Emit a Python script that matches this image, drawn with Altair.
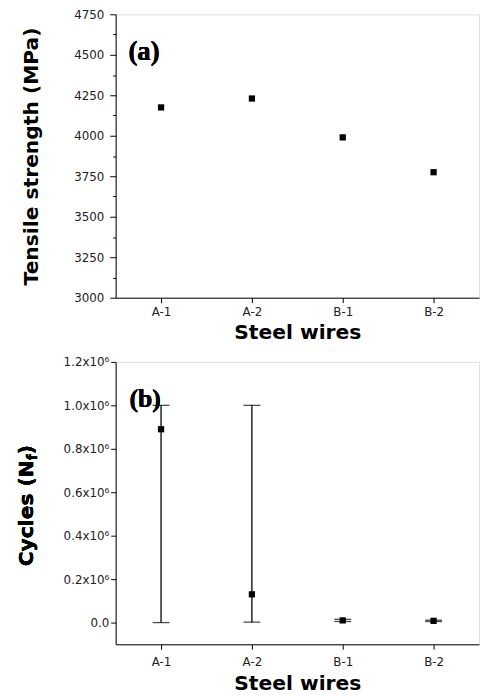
import altair as alt
import pandas as pd

wires = ["A-1", "A-2", "B-1", "B-2"]
tensile = [4175, 4230, 3990, 3775]
cycles_mean = [890000, 130000, 10000, 8000]
cycles_low = [0, 2000, 5000, 5000]
cycles_high = [1000000, 1000000, 15000, 11000]

ts_ticks = list(range(3000, 4751, 125))
cy_ticks = [i * 100000 for i in range(0, 13)]

df_a = pd.DataFrame({"wire": wires, "ts": tensile})
df_b = pd.DataFrame({"wire": wires, "mean": cycles_mean, "low": cycles_low, "high": cycles_high})

LF = "DejaVu Sans"
TF = "DejaVu Sans"
TS = 20.5
LS = 12
W = 368
H_TOP = 287
H_BOT = 286

def xaxis(lp, tp):
    return alt.Axis(title="Steel wires", labelAngle=0, labelFont=LF, labelFontSize=LS,
                    labelColor="#222", titleFont=TF, titleFontSize=TS, titleFontWeight="bold",
                    titleColor="black", tickSize=5, tickColor="black", domainColor="black",
                    labelPadding=lp, titlePadding=tp, grid=False)

def xenc(lp, tp):
    return alt.X("wire:N", sort=wires, scale=alt.Scale(type="point", padding=0.5), axis=xaxis(lp, tp))

top_base = alt.Chart(df_a)
pts_a = top_base.mark_square(size=40, color="black", opacity=1).encode(
    x=xenc(4, 5),
    y=alt.Y("ts:Q", scale=alt.Scale(domain=[3000, 4750], nice=False, zero=False),
            axis=alt.Axis(title="Tensile strength (MPa)", values=ts_ticks,
                          labelExpr="datum.value % 250 == 0 ? datum.label : ''",
                          format="d",
                          tickSize={"condition": {"test": "datum.value % 250 == 0", "value": 6}, "value": 3},
                          tickColor="black", domainColor="black", grid=False,
                          labelFont=LF, labelFontSize=LS, labelColor="#222", labelPadding=6,
                          titleFont=TF, titleFontSize=TS, titleFontWeight="bold", titleColor="black",
                          titleX=-75, titleY=H_TOP / 2)),
)
lab_a = top_base.mark_text(font="Liberation Serif", fontSize=27, fontWeight="bold",
                           align="left", baseline="alphabetic", color="black").encode(
    x=alt.value(13), y=alt.value(46), text=alt.value("(a)"))
top = alt.layer(pts_a, lab_a).properties(width=W, height=H_TOP)

bot_base = alt.Chart(df_b)
xb = xenc(7, 7)
yb = alt.Y("low:Q", scale=alt.Scale(domain=[-100000, 1200000], nice=False, zero=False),
           axis=alt.Axis(title=None, values=cy_ticks,
                         labelExpr="abs(datum.value/200000 - round(datum.value/200000)) < 0.001 ? (datum.value == 0 ? '0.0' : format(datum.value/1000000, '.1f') + 'x10⁶') : ''",
                         tickSize={"condition": {"test": "abs(datum.value/200000 - round(datum.value/200000)) < 0.001", "value": 5}, "value": 3},
                         tickColor="black", domainColor="black", grid=False,
                         labelFont=LF, labelFontSize=LS, labelColor="#222", labelPadding=2))
rules = bot_base.mark_rule(color="black", strokeWidth=1.3).encode(x=xb, y=yb, y2="high:Q")
cap_lo = bot_base.mark_tick(color="black", size=17, thickness=1.3).encode(x=xb, y="low:Q")
cap_hi = bot_base.mark_tick(color="black", size=17, thickness=1.3).encode(x=xb, y="high:Q")
pts_b = bot_base.mark_square(size=40, color="black", opacity=1).encode(x=xb, y="mean:Q")
lab_b = bot_base.mark_text(font="Liberation Serif", fontSize=26, fontWeight="bold",
                           align="left", baseline="alphabetic", color="black").encode(
    x=alt.value(14), y=alt.value(46), text=alt.value("(b)"))
ttl_kw = dict(angle=270, align="left", baseline="alphabetic", font=TF, fontWeight="bold", color="black")
t1 = bot_base.mark_text(fontSize=TS, **ttl_kw).encode(x=alt.value(-84), y=alt.value(207), text=alt.value("Cycles (N"))
t2 = bot_base.mark_text(fontSize=14, **ttl_kw).encode(x=alt.value(-80), y=alt.value(99.5), text=alt.value("f"))
t3 = bot_base.mark_text(fontSize=TS, **ttl_kw).encode(x=alt.value(-84), y=alt.value(93.5), text=alt.value(")"))
bottom = alt.layer(rules, cap_lo, cap_hi, pts_b, lab_b, t1, t2, t3).properties(width=W, height=H_BOT)

chart = alt.vconcat(top, bottom, spacing=65, bounds="flush").properties(
    padding={"left": 8, "top": -5, "right": 0, "bottom": 0}
).configure_view(stroke="#777", strokeWidth=1).configure(background="white")

chart.save("out.html", embed_options={"renderer": "svg", "actions": False})
